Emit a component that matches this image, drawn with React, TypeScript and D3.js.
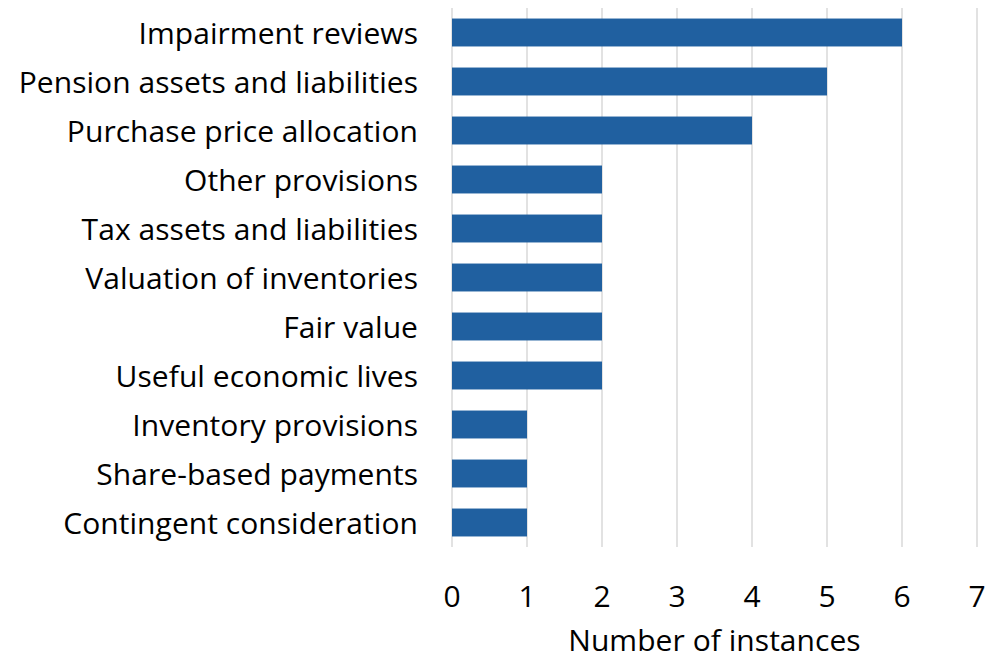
import React from "react";
import * as d3 from "d3";

const categories = [
  "Impairment reviews",
  "Pension assets and liabilities",
  "Purchase price allocation",
  "Other provisions",
  "Tax assets and liabilities",
  "Valuation of inventories",
  "Fair value",
  "Useful economic lives",
  "Inventory provisions",
  "Share-based payments",
  "Contingent consideration",
];
const values = [6, 5, 4, 2, 2, 2, 2, 2, 1, 1, 1];
const xTicks = [0, 1, 2, 3, 4, 5, 6, 7];
const xTitle = "Number of instances";

const W = 998;
const H = 660;
const FONT = "'Open Sans', 'Noto Sans', sans-serif";
const FS = 30;

export default function App() {
  const x = d3.scaleLinear().domain([0, 7]).range([452, 977]);
  const y = d3
    .scaleBand<string>()
    .domain(categories)
    .range([8, 547])
    .paddingInner(0.43)
    .paddingOuter(0.215);

  return (
    <svg
      width={W}
      height={H}
      style={{ position: "absolute", left: 0, top: 0, background: "#fff" }}
      fontFamily={FONT}
    >
      {xTicks.map((t) => (
        <line
          key={"g" + t}
          x1={x(t)}
          x2={x(t)}
          y1={8}
          y2={547}
          stroke="#d9d9d9"
          strokeWidth={1.5}
        />
      ))}
      {categories.map((c, i) => (
        <rect
          key={c}
          x={x(0)}
          y={y(c)}
          width={x(values[i]) - x(0)}
          height={y.bandwidth()}
          fill="#2060a0"
        />
      ))}
      {categories.map((c) => (
        <text
          key={"l" + c}
          x={418}
          y={(y(c) as number) + y.bandwidth() / 2 + 11}
          textAnchor="end"
          fontSize={FS}
          letterSpacing={0.05}
          fill="#000"
        >
          {c}
        </text>
      ))}
      {xTicks.map((t) => (
        <text
          key={"t" + t}
          x={x(t)}
          y={606.5}
          textAnchor="middle"
          fontSize={FS}
          fill="#000"
        >
          {t}
        </text>
      ))}
      <text
        x={x(3.5)}
        y={651}
        textAnchor="middle"
        fontSize={FS}
        letterSpacing={0.05}
        fill="#000"
      >
        {xTitle}
      </text>
    </svg>
  );
}
